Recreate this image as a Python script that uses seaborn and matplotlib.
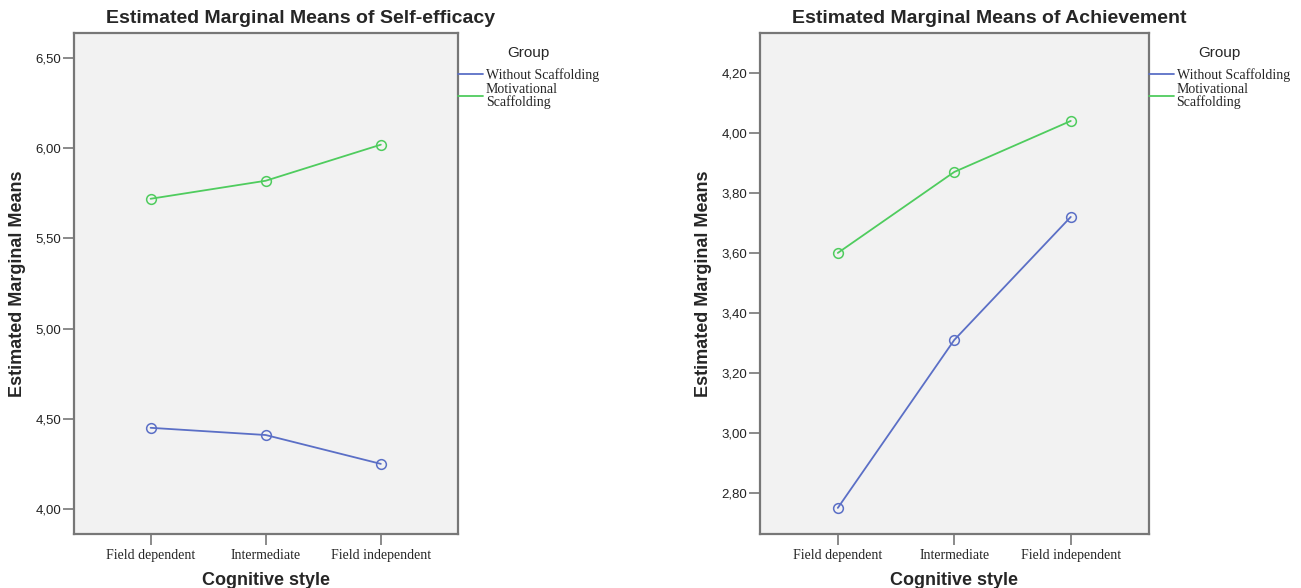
import pandas as pd
import matplotlib
matplotlib.use("Agg")
import matplotlib.pyplot as plt
import seaborn as sns
from matplotlib.lines import Line2D
from matplotlib.ticker import FuncFormatter

# values
styles = ["Field dependent", "Intermediate", "Field independent"]
groups = ["Without Scaffolding", "Motivational\nScaffolding"]
self_eff_without = [4.45, 4.41, 4.25]
self_eff_motiv = [5.72, 5.82, 6.02]
ach_without = [2.75, 3.31, 3.72]
ach_motiv = [3.60, 3.87, 4.04]

blue = "#5b6fc6"
green = "#4fcc5e"
edge = "#777777"

sns.set_style("white")
plt.rcParams["font.family"] = ["Liberation Sans", "DejaVu Sans"]


def make_df(without, motiv):
    rows = []
    for s, v in zip(styles, without):
        rows.append({"style": s, "mean": v, "Group": groups[0]})
    for s, v in zip(styles, motiv):
        rows.append({"style": s, "mean": v, "Group": groups[1]})
    return pd.DataFrame(rows)


fig = plt.figure(figsize=(13.01, 5.88), dpi=100)
ax1 = fig.add_axes([0.0565, 0.0918, 0.2955, 0.852])
ax2 = fig.add_axes([0.584, 0.0918, 0.299, 0.852])

panels = [
    (ax1, make_df(self_eff_without, self_eff_motiv), "Self-efficacy",
     [4.0, 4.5, 5.0, 5.5, 6.0, 6.5], (3.861, 6.639)),
    (ax2, make_df(ach_without, ach_motiv), "Achievement",
     [2.8, 3.0, 3.2, 3.4, 3.6, 3.8, 4.0, 4.2], (2.663, 4.333)),
]

for ax, df, name, yt, ylim in panels:
    sns.lineplot(data=df, x="style", y="mean", hue="Group", hue_order=groups,
                 palette=[blue, green], marker="o", sort=False, legend=False,
                 lw=1.3, ax=ax)
    for ln in ax.lines:
        ln.set_markerfacecolor("none")
        ln.set_markeredgecolor(ln.get_color())
        ln.set_markeredgewidth(1.1)
        ln.set_markersize(7)
    ax.set_facecolor("#f2f2f2")
    ax.set_xlim(-0.67, 2.67)
    ax.set_ylim(*ylim)
    ax.set_yticks(yt)
    ax.yaxis.set_major_formatter(FuncFormatter(lambda v, p: f"{v:.2f}".replace(".", ",")))
    ax.set_xticks(range(len(styles)))
    ax.set_xticklabels(styles, family="Liberation Serif", fontsize=10)
    for t in ax.get_yticklabels():
        t.set_fontsize(9.5)
        t.set_color("#222222")
    ax.tick_params(axis="both", direction="out", length=8, width=1.2,
                   color=edge, pad=1, bottom=True, left=True)
    ax.tick_params(axis="x", pad=3)
    for sp in ax.spines.values():
        sp.set_visible(True)
        sp.set_color(edge)
        sp.set_linewidth(1.6)
    ax.set_title(f"Estimated Marginal Means of {name}", fontsize=14,
                 fontweight="bold", pad=7, x=0.59)
    ax.set_xlabel("Cognitive style", fontsize=13, fontweight="bold", labelpad=7)
    ax.set_ylabel("Estimated Marginal Means", fontsize=13, fontweight="bold",
                  labelpad=7)

    handles = [Line2D([0], [0], color=blue, lw=1.3),
               Line2D([0], [0], color=green, lw=1.3)]
    leg = ax.legend(handles, groups, title="Group", loc="upper left",
                    bbox_to_anchor=(1.0, 0.975), frameon=False,
                    borderaxespad=0, borderpad=0, handlelength=1.8,
                    handletextpad=0.2, labelspacing=0.1,
                    prop={"family": "Liberation Serif", "size": 10},
                    title_fontproperties={"family": "Liberation Sans", "size": 11})
    leg._legend_box.sep = 6
    for t in leg.get_texts():
        t.set_linespacing(0.9)

fig.savefig("out.png", dpi=100)
